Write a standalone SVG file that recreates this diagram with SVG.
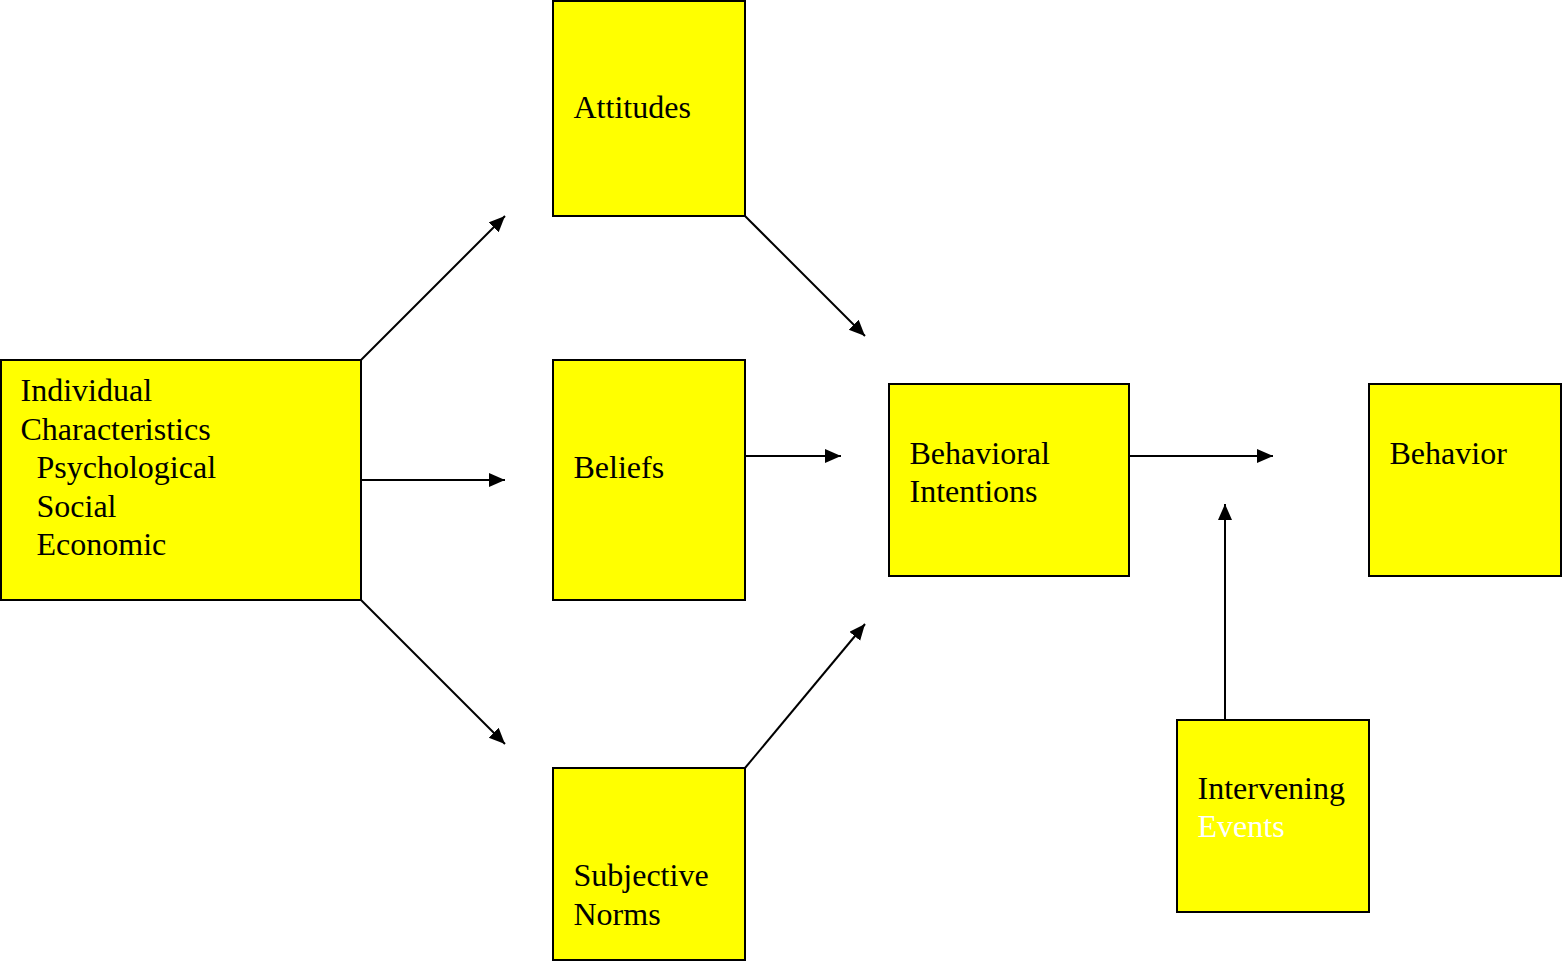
<svg xmlns="http://www.w3.org/2000/svg" width="1562" height="966" viewBox="0 0 1562 966">
<style>
.box{fill:#ffff00;stroke:#000;stroke-width:2}
.t{font-family:"Liberation Serif","Times New Roman",serif;font-size:32px;fill:#000}
.w{fill:#fff}
.c{stroke:#000;stroke-width:2;fill:none;marker-end:url(#ah)}
</style>
<defs>
<marker id="ah" markerUnits="userSpaceOnUse" markerWidth="18" markerHeight="16" refX="16" refY="7" orient="auto">
<path d="M0,0 L16,7 L0,14 Z" fill="#000"/>
</marker>
</defs>
<rect width="1562" height="966" fill="#fff"/>
<g id="connectors">
<line class="c" x1="361" y1="360" x2="505" y2="216"/>
<line class="c" x1="361" y1="480" x2="505" y2="480"/>
<line class="c" x1="361" y1="600" x2="505" y2="744"/>
<line class="c" x1="745" y1="216" x2="865" y2="336"/>
<line class="c" x1="745" y1="456" x2="841" y2="456"/>
<line class="c" x1="745" y1="768" x2="865" y2="624"/>
<line class="c" x1="1129" y1="456" x2="1273" y2="456"/>
<line class="c" x1="1225" y1="720" x2="1225" y2="504"/>
</g>
<g id="individual">
<rect class="box" x="1" y="360" width="360" height="240"/>
<text class="t" x="20.5" y="401">Individual</text>
<text class="t" x="20.5" y="439.5">Characteristics</text>
<text class="t" x="36.5" y="478">Psychological</text>
<text class="t" x="36.5" y="516.5">Social</text>
<text class="t" x="36.5" y="555">Economic</text>
</g>
<g id="attitudes">
<rect class="box" x="553" y="1" width="192" height="215"/>
<text class="t" x="573.5" y="118">Attitudes</text>
</g>
<g id="beliefs">
<rect class="box" x="553" y="360" width="192" height="240"/>
<text class="t" x="573.5" y="478">Beliefs</text>
</g>
<g id="subjective-norms">
<rect class="box" x="553" y="768" width="192" height="192"/>
<text class="t" x="573.5" y="886">Subjective</text>
<text class="t" x="573.5" y="925">Norms</text>
</g>
<g id="behavioral-intentions">
<rect class="box" x="889" y="384" width="240" height="192"/>
<text class="t" x="909.5" y="464">Behavioral</text>
<text class="t" x="909.5" y="502">Intentions</text>
</g>
<g id="behavior">
<rect class="box" x="1369" y="384" width="192" height="192"/>
<text class="t" x="1389.5" y="464">Behavior</text>
</g>
<g id="intervening-events">
<rect class="box" x="1177" y="720" width="192" height="192"/>
<text class="t" x="1197.5" y="799">Intervening</text>
<text class="t w" x="1197.5" y="837">Events</text>
</g>
</svg>
